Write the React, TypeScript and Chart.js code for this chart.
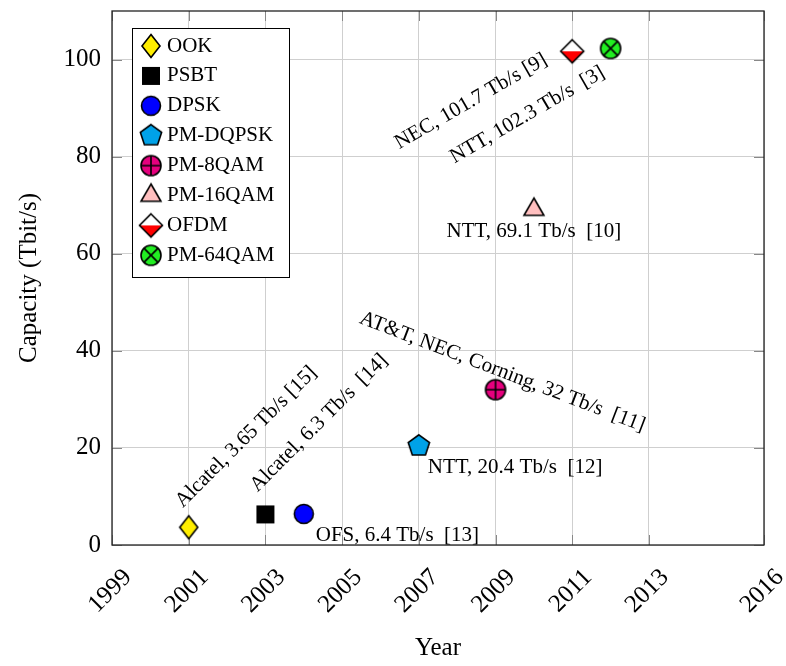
import React, { useEffect, useRef } from 'react';
import { Chart, registerables } from 'chart.js';

Chart.register(...registerables);

// ---- data ----
const formats = ['OOK', 'PSBT', 'DPSK', 'PM-DQPSK', 'PM-8QAM', 'PM-16QAM', 'OFDM', 'PM-64QAM'];
const years = [2001, 2003, 2004, 2007, 2009, 2010, 2011, 2012];
const capacities = [3.65, 6.3, 6.4, 20.4, 32, 69.1, 101.7, 102.3];
const notes = [
  'Alcatel, 3.65 Tb/s [15]',
  'Alcatel, 6.3 Tb/s  [14]',
  'OFS, 6.4 Tb/s  [13]',
  'NTT, 20.4 Tb/s  [12]',
  'AT&T, NEC, Corning, 32 Tb/s  [11]',
  'NTT, 69.1 Tb/s  [10]',
  'NEC, 101.7 Tb/s [9]',
  'NTT, 102.3 Tb/s  [3]',
];
const xTickValues = [1999, 2001, 2003, 2005, 2007, 2009, 2011, 2013, 2016];
const yTickValues = [0, 20, 40, 60, 80, 100];

// ---- styles ----
const FONT = "'Liberation Serif', 'Times New Roman', Times, serif";
const markerKinds = ['diamond', 'square', 'circle', 'pentagon', 'oplus', 'triangle', 'halfdiamond', 'otimes'];
const markerFills = ['#ffee00', '#000000', '#0000ff', '#00a2e8', '#e6007e', '#ffbfbf', '#ff0000', '#22ee22'];
// label placement relative to its point (pixels), rotation in degrees (ccw)
const notePlacement = [
  { dx: -6, dy: -19, rot: 45, align: 'left' },
  { dx: -8, dy: -22, rot: 45, align: 'left' },
  { dx: 12, dy: 27, rot: 0, align: 'left' },
  { dx: 9, dy: 27, rot: 0, align: 'left' },
  { dx: -137, dy: -67, rot: -21, align: 'left' },
  { dx: 0, dy: 27.5, rot: 0, align: 'center' },
  { dx: -173, dy: 98, rot: 30, align: 'left' },
  { dx: -156, dy: 115, rot: 30, align: 'left' },
];

function makeMarker(kind: string, fill: string): HTMLCanvasElement {
  const S = 28;
  const c = document.createElement('canvas');
  c.width = S;
  c.height = S;
  const g = c.getContext('2d')!;
  g.translate(S / 2, S / 2);
  g.lineWidth = 1.6;
  g.strokeStyle = '#000';
  g.fillStyle = fill;
  g.lineJoin = 'miter';
  const circle = (r: number) => {
    g.beginPath();
    g.arc(0, 0, r, 0, Math.PI * 2);
    g.fill();
    g.stroke();
  };
  switch (kind) {
    case 'diamond': {
      g.beginPath();
      g.moveTo(0, -11.5);
      g.lineTo(9, 0);
      g.lineTo(0, 11.5);
      g.lineTo(-9, 0);
      g.closePath();
      g.fill();
      g.stroke();
      break;
    }
    case 'square': {
      g.fillRect(-9, -9, 18, 18);
      break;
    }
    case 'circle': {
      circle(9.5);
      break;
    }
    case 'pentagon': {
      const R = 11.2;
      g.beginPath();
      for (let k = 0; k < 5; k++) {
        const a = -Math.PI / 2 + (k * 2 * Math.PI) / 5;
        const px = R * Math.cos(a);
        const py = R * Math.sin(a);
        if (k === 0) g.moveTo(px, py);
        else g.lineTo(px, py);
      }
      g.closePath();
      g.fill();
      g.stroke();
      break;
    }
    case 'oplus': {
      const r = 10;
      circle(r);
      g.beginPath();
      g.moveTo(-r, 0);
      g.lineTo(r, 0);
      g.moveTo(0, -r);
      g.lineTo(0, r);
      g.stroke();
      break;
    }
    case 'otimes': {
      const r = 10;
      circle(r);
      const d = r * Math.SQRT1_2;
      g.beginPath();
      g.moveTo(-d, -d);
      g.lineTo(d, d);
      g.moveTo(-d, d);
      g.lineTo(d, -d);
      g.stroke();
      break;
    }
    case 'triangle': {
      const R = 11.5;
      g.beginPath();
      g.moveTo(0, -R);
      g.lineTo(R * Math.cos(Math.PI / 6), R / 2);
      g.lineTo(-R * Math.cos(Math.PI / 6), R / 2);
      g.closePath();
      g.fill();
      g.stroke();
      break;
    }
    case 'halfdiamond': {
      const h = 11.5;
      g.beginPath();
      g.moveTo(0, -h);
      g.lineTo(h, 0);
      g.lineTo(0, h);
      g.lineTo(-h, 0);
      g.closePath();
      g.fillStyle = '#ffffff';
      g.fill();
      g.beginPath();
      g.moveTo(-h, 0);
      g.lineTo(h, 0);
      g.lineTo(0, h);
      g.closePath();
      g.fillStyle = fill;
      g.fill();
      g.beginPath();
      g.moveTo(0, -h);
      g.lineTo(h, 0);
      g.lineTo(0, h);
      g.lineTo(-h, 0);
      g.closePath();
      g.stroke();
      break;
    }
  }
  return c;
}

const framePlugin = {
  id: 'frame',
  beforeDatasetsDraw(chart: any) {
    const { ctx, chartArea } = chart;
    const { left, right, top, bottom } = chartArea;
    const xs = chart.scales.x;
    const ys = chart.scales.y;
    ctx.save();
    ctx.strokeStyle = '#888888';
    ctx.lineWidth = 1;
    const L = 10;
    xTickValues.forEach((v) => {
      const px = Math.round(xs.getPixelForValue(v)) + 0.5;
      ctx.beginPath();
      ctx.moveTo(px, bottom);
      ctx.lineTo(px, bottom - L);
      ctx.moveTo(px, top);
      ctx.lineTo(px, top + L);
      ctx.stroke();
    });
    yTickValues.forEach((v) => {
      const py = Math.round(ys.getPixelForValue(v)) + 0.5;
      ctx.beginPath();
      ctx.moveTo(left, py);
      ctx.lineTo(left + L, py);
      ctx.moveTo(right, py);
      ctx.lineTo(right - L, py);
      ctx.stroke();
    });
    ctx.strokeStyle = '#222222';
    ctx.lineWidth = 1.3;
    ctx.strokeRect(left, top, right - left, bottom - top);
    ctx.restore();
  },
};

const notesPlugin = {
  id: 'notes',
  afterDatasetsDraw(chart: any) {
    const { ctx } = chart;
    const xs = chart.scales.x;
    const ys = chart.scales.y;
    ctx.save();
    ctx.font = `21px ${FONT}`;
    ctx.fillStyle = '#000';
    ctx.textBaseline = 'alphabetic';
    notes.forEach((t, i) => {
      const p = notePlacement[i];
      const px = xs.getPixelForValue(years[i]) + p.dx;
      const py = ys.getPixelForValue(capacities[i]) + p.dy;
      ctx.save();
      ctx.translate(px, py);
      ctx.rotate((-p.rot * Math.PI) / 180);
      ctx.textAlign = p.align;
      ctx.fillText(t, 0, 0);
      ctx.restore();
    });
    ctx.restore();
  },
};

const legendPlugin = {
  id: 'boxLegend',
  afterDraw(chart: any) {
    const { ctx, chartArea } = chart;
    const left = chartArea.left + 20;
    const top = chartArea.top + 17;
    ctx.save();
    ctx.font = `21px ${FONT}`;
    const ds = chart.data.datasets;
    const maxW = Math.max(...ds.map((d: any) => ctx.measureText(d.label).width));
    const w = Math.round(35 + maxW + 15);
    const h = 249;
    ctx.fillStyle = '#ffffff';
    ctx.fillRect(left, top, w, h);
    ctx.strokeStyle = '#000';
    ctx.lineWidth = 1;
    ctx.strokeRect(left + 0.5, top + 0.5, w, h);
    ds.forEach((d: any, i: number) => {
      const cy = top + 18 + i * 29.9;
      const img = d.pointStyle as HTMLCanvasElement;
      ctx.drawImage(img, left + 19 - img.width / 2, cy - img.height / 2);
      ctx.fillStyle = '#000';
      ctx.textBaseline = 'middle';
      ctx.textAlign = 'left';
      ctx.fillText(d.label, left + 35, cy);
    });
    ctx.restore();
  },
};

const zeroPad = (s: any) => {
  s.paddingTop = 0;
  s.paddingBottom = 0;
  s.paddingLeft = 0;
  s.paddingRight = 0;
};

export default function App() {
  const ref = useRef<HTMLCanvasElement | null>(null);
  useEffect(() => {
    if (!ref.current) return;
    const datasets = formats.map((f, i) => ({
      label: f,
      data: [{ x: years[i], y: capacities[i] }],
      pointStyle: makeMarker(markerKinds[i], markerFills[i]),
      pointRadius: 10,
      showLine: false,
      clip: false,
    }));
    const tickFont = { family: FONT, size: 25 };
    const chart = new Chart(ref.current, {
      type: 'scatter',
      data: { datasets },
      options: {
        animation: false,
        responsive: false,
        events: [],
        layout: { padding: { top: 8, right: 22, bottom: 0, left: 0 } },
        plugins: { legend: { display: false }, tooltip: { enabled: false } },
        scales: {
          x: {
            type: 'linear',
            min: 1999,
            max: 2016,
            afterBuildTicks: (s: any) => {
              s.ticks = xTickValues.map((v) => ({ value: v }));
            },
            afterFit: (s: any) => {
              s.height = 121;
              zeroPad(s);
            },
            ticks: {
              autoSkip: false,
              minRotation: 45,
              maxRotation: 45,
              padding: 18,
              labelOffset: 16,
              color: '#000',
              font: tickFont,
              callback: (v: any) => String(v),
            },
            grid: { color: '#cfcfcf', lineWidth: 1, drawTicks: false },
            border: { display: false },
            title: {
              display: true,
              text: 'Year',
              color: '#000',
              font: tickFont,
              padding: { top: 0, bottom: 3 },
            },
          },
          y: {
            type: 'linear',
            min: 0,
            max: 110,
            afterBuildTicks: (s: any) => {
              s.ticks = yTickValues.map((v) => ({ value: v }));
            },
            afterFit: (s: any) => {
              s.width = 112;
              zeroPad(s);
            },
            ticks: {
              padding: 11,
              color: '#000',
              font: tickFont,
              callback: (v: any) => String(v),
            },
            grid: { color: '#cfcfcf', lineWidth: 1, drawTicks: false },
            border: { display: false },
            title: {
              display: true,
              text: 'Capacity (Tbit/s)',
              color: '#000',
              font: tickFont,
              padding: { top: 14, bottom: 0 },
            },
          },
        },
      } as any,
      plugins: [framePlugin, notesPlugin, legendPlugin],
    });
    return () => chart.destroy();
  }, []);
  return (
    <div style={{ position: 'fixed', left: 0, top: 0, width: 786, height: 666, background: '#fff' }}>
      <canvas ref={ref} width={786} height={666} style={{ display: 'block' }} />
    </div>
  );
}
